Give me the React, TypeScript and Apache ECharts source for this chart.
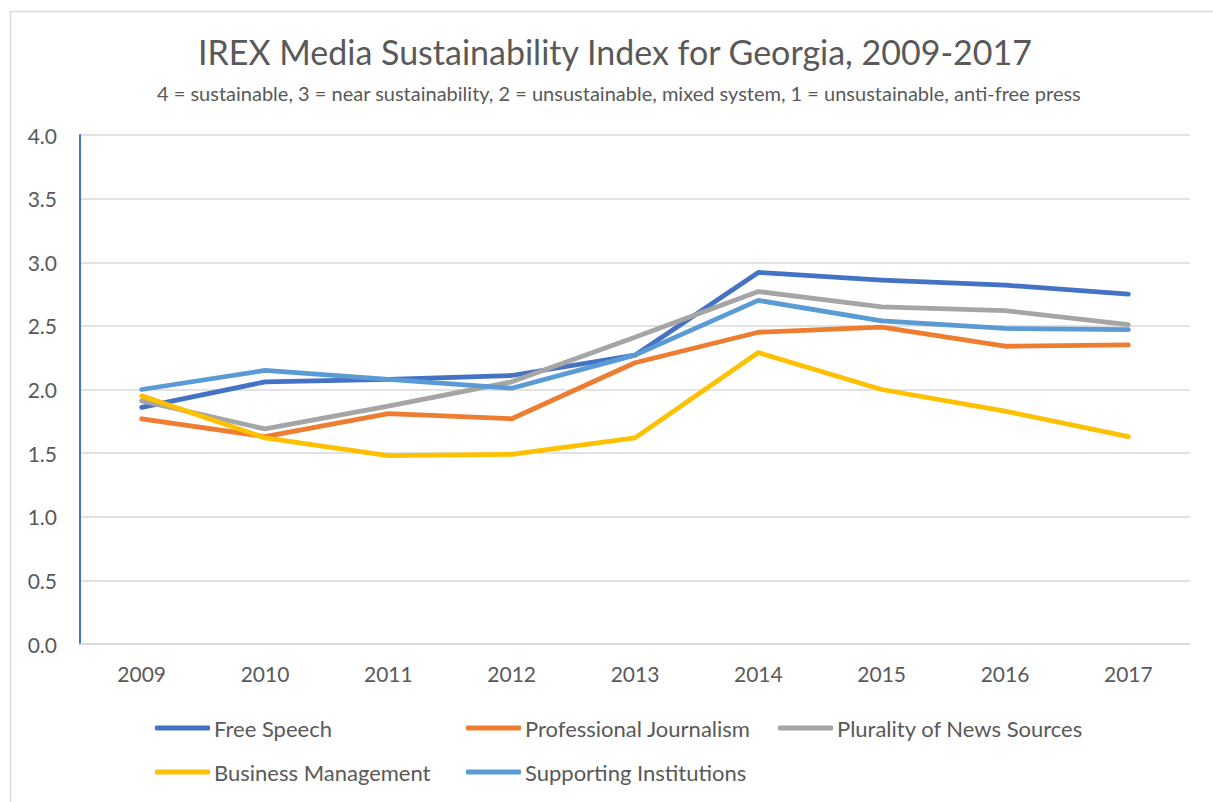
import React, { useEffect, useRef } from "react";
import * as echarts from "echarts";

const years = ["2009", "2010", "2011", "2012", "2013", "2014", "2015", "2016", "2017"];
const freeSpeech = [1.86, 2.06, 2.08, 2.11, 2.27, 2.92, 2.86, 2.82, 2.75];
const professionalJournalism = [1.77, 1.63, 1.81, 1.77, 2.21, 2.45, 2.49, 2.34, 2.35];
const pluralityOfNewsSources = [1.91, 1.69, 1.87, 2.06, 2.41, 2.77, 2.65, 2.62, 2.51];
const businessManagement = [1.95, 1.62, 1.48, 1.49, 1.62, 2.29, 2.0, 1.83, 1.63];
const supportingInstitutions = [2.0, 2.15, 2.08, 2.01, 2.27, 2.7, 2.54, 2.48, 2.47];
const seriesNames = [
  "Free Speech",
  "Professional Journalism",
  "Plurality of News Sources",
  "Business Management",
  "Supporting Institutions",
];
const seriesData = [freeSpeech, professionalJournalism, pluralityOfNewsSources, businessManagement, supportingInstitutions];
const colors = ["#4472C4", "#ED7D31", "#A5A5A5", "#FFC000", "#5B9BD5"];
const legendPos = [
  [150, 712],
  [461, 712],
  [773, 712],
  [150, 756],
  [461, 756],
];

const FONT = "Lato, 'Liberation Sans', sans-serif";
const GRAY = "#595959";

export default function App() {
  const ref = useRef<HTMLDivElement>(null);
  useEffect(() => {
    if (!ref.current) return;
    const chart = echarts.init(ref.current, undefined, { renderer: "svg" });
    chart.setOption({
      animation: false,
      backgroundColor: "#ffffff",
      textStyle: { fontFamily: FONT },
      title: [
        {
          text: "IREX Media Sustainability Index for Georgia, 2009-2017",
          left: 193,
          top: 29,
          textStyle: { fontFamily: FONT, fontSize: 34, fontWeight: "normal", color: GRAY },
        },
        {
          text: "4 = sustainable, 3 = near sustainability, 2 = unsustainable, mixed system, 1 = unsustainable, anti-free press",
          left: 152,
          top: 78,
          textStyle: { fontFamily: FONT, fontSize: 20, fontWeight: "normal", color: GRAY },
        },
      ],
      graphic: [
        {
          type: "rect",
          shape: { x: 10.5, y: 11.5, width: 1220, height: 800 },
          style: { fill: "none", stroke: "#d9d9d9", lineWidth: 1.5 },
          silent: true,
        },
      ],
      legend: seriesNames.map((name, i) => ({
        data: [name],
        left: legendPos[i][0],
        top: legendPos[i][1],
        itemWidth: 55,
        itemHeight: 5,
        itemGap: 4,
        icon: "roundRect",
        textStyle: { fontFamily: FONT, fontSize: 22, color: GRAY, padding: [0, 0, 0, -1] },
      })),
      grid: { left: 80, right: 23, top: 135, bottom: 158, containLabel: false },
      xAxis: {
        type: "category",
        data: years,
        boundaryGap: true,
        axisLine: { show: true, lineStyle: { color: "#d9d9d9", width: 1.5 } },
        axisTick: { show: false },
        axisLabel: { color: GRAY, fontSize: 21, fontFamily: FONT, margin: 19 },
      },
      yAxis: {
        type: "value",
        min: 0,
        max: 4,
        interval: 0.5,
        axisLine: { show: true, lineStyle: { color: "#4472C4", width: 2 } },
        axisTick: { show: false },
        splitLine: { lineStyle: { color: "#d9d9d9", width: 1.5 } },
        axisLabel: {
          color: GRAY,
          fontSize: 21,
          fontFamily: FONT,
          margin: 23,
          formatter: (v: number) => v.toFixed(1),
        },
      },
      series: seriesNames.map((name, i) => ({
        name,
        type: "line",
        data: seriesData[i],
        symbol: "none",
        color: colors[i],
        lineStyle: { width: 4.8, color: colors[i], cap: "round", join: "round" },
      })),
    });
    return () => chart.dispose();
  }, []);
  return (
    <div
      ref={ref}
      style={{ position: "absolute", left: 0, top: 0, width: 1213, height: 802 }}
    />
  );
}
